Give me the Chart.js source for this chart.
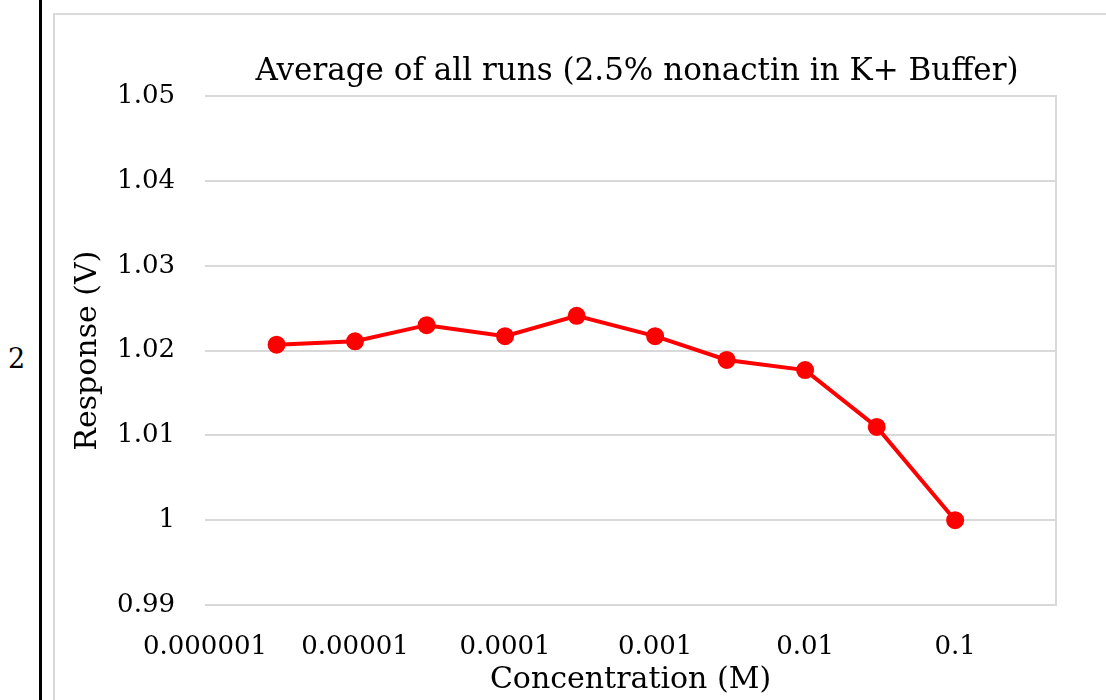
<!DOCTYPE html>
<html>
<head>
<meta charset="utf-8">
<script src="https://cdn.jsdelivr.net/npm/chart.js@4.4.1/dist/chart.umd.min.js"></script>
<style>
  html, body { margin: 0; padding: 0; background: #fff; overflow: hidden; }
  body { width: 1106px; height: 700px; position: relative; }
  #rownum { position: absolute; left: 8px; top: 343px; font: 27px "DejaVu Serif", serif; color: #000; }
  #rule { position: absolute; left: 39px; top: 0; width: 3px; height: 700px; background: #000; }
  #frame { position: absolute; left: 53px; top: 13px; width: 1200px; height: 740px;
           border: 2px solid #d9d9d9; overflow: hidden; }
  #wrap { position: absolute; left: 0; top: 0; width: 1164px; height: 683px; }
</style>
</head>
<body>
<div id="rownum">2</div>
<div id="rule"></div>
<div id="frame"><div id="wrap"><canvas id="chart"></canvas></div></div>
<script>
// concentration (M) and averaged response (V)
const concentration = [0.000003, 0.00001, 0.00003, 0.0001, 0.0003, 0.001, 0.003, 0.01, 0.03, 0.1];
const response = [1.0207, 1.0211, 1.0230, 1.0217, 1.0241, 1.0217, 1.0189, 1.0177, 1.0110, 1.0000];

const xTickValues = [0.000001, 0.00001, 0.0001, 0.001, 0.01, 0.1];
const xTickLabels = ["0.000001", "0.00001", "0.0001", "0.001", "0.01", "0.1"];
const yTickLabels = ["0.99", "1", "1.01", "1.02", "1.03", "1.04", "1.05"];

const FONT = "'DejaVu Serif', serif";
const GRID = "#d9d9d9";

const points = concentration.map((c, i) => ({ x: c, y: response[i] }));

new Chart(document.getElementById("chart"), {
  type: "line",
  data: {
    datasets: [{
      label: "Average",
      data: points,
      borderColor: "#ff0000",
      backgroundColor: "#ff0000",
      borderWidth: 4,
      pointRadius: 7,
      pointHoverRadius: 7,
      tension: 0,
    }],
  },
  options: {
    responsive: true,
    maintainAspectRatio: false,
    animation: false,
    layout: { padding: 0 },
    plugins: {
      legend: { display: false },
      tooltip: { enabled: false },
      title: {
        display: true,
        text: "Average of all runs (2.5% nonactin in K+ Buffer)",
        color: "#000",
        font: { family: FONT, size: 31, weight: "normal" },
        padding: { top: 38, bottom: 6 },
      },
    },
    scales: {
      x: {
        type: "logarithmic",
        min: 0.000001,
        max: 0.47,
        afterBuildTicks: (axis) => {
          axis.ticks = xTickValues.map((v) => ({ value: v }));
        },
        afterFit: (axis) => { axis.height = 93; },
        border: { display: false },
        grid: { display: false },
        ticks: {
          color: "#000",
          font: { family: FONT, size: 26 },
          padding: 19,
          maxRotation: 0,
          autoSkip: false,
          callback: (v, i) => xTickLabels[i],
        },
        title: {
          display: true,
          text: "Concentration (M)",
          color: "#000",
          font: { family: FONT, size: 30 },
          padding: 0,
        },
      },
      y: {
        type: "linear",
        min: 0.99,
        max: 1.05,
        afterBuildTicks: (axis) => {
          axis.ticks = yTickLabels.map((t, i) => ({ value: 0.99 + i * 0.01 }));
        },
        afterFit: (axis) => { axis.width = 150; },
        border: { display: false },
        grid: { color: GRID, lineWidth: 2, drawTicks: false },
        ticks: {
          color: "#000",
          font: { family: FONT, size: 26 },
          padding: 30,
          callback: (v, i) => yTickLabels[i],
        },
        title: {
          display: true,
          text: "Response (V)",
          color: "#000",
          font: { family: FONT, size: 30 },
          padding: { top: 15, bottom: 0 },
        },
      },
      // empty right-hand axis: rules the plot's right edge and leaves room beside it
      edge: {
        type: "linear",
        position: "right",
        min: 0.99,
        max: 1.05,
        afterFit: (axis) => { axis.width = 163; },
        border: { display: true, color: GRID, width: 2 },
        grid: { display: false },
        ticks: { display: false },
      },
    },
  },
});
</script>
</body>
</html>
